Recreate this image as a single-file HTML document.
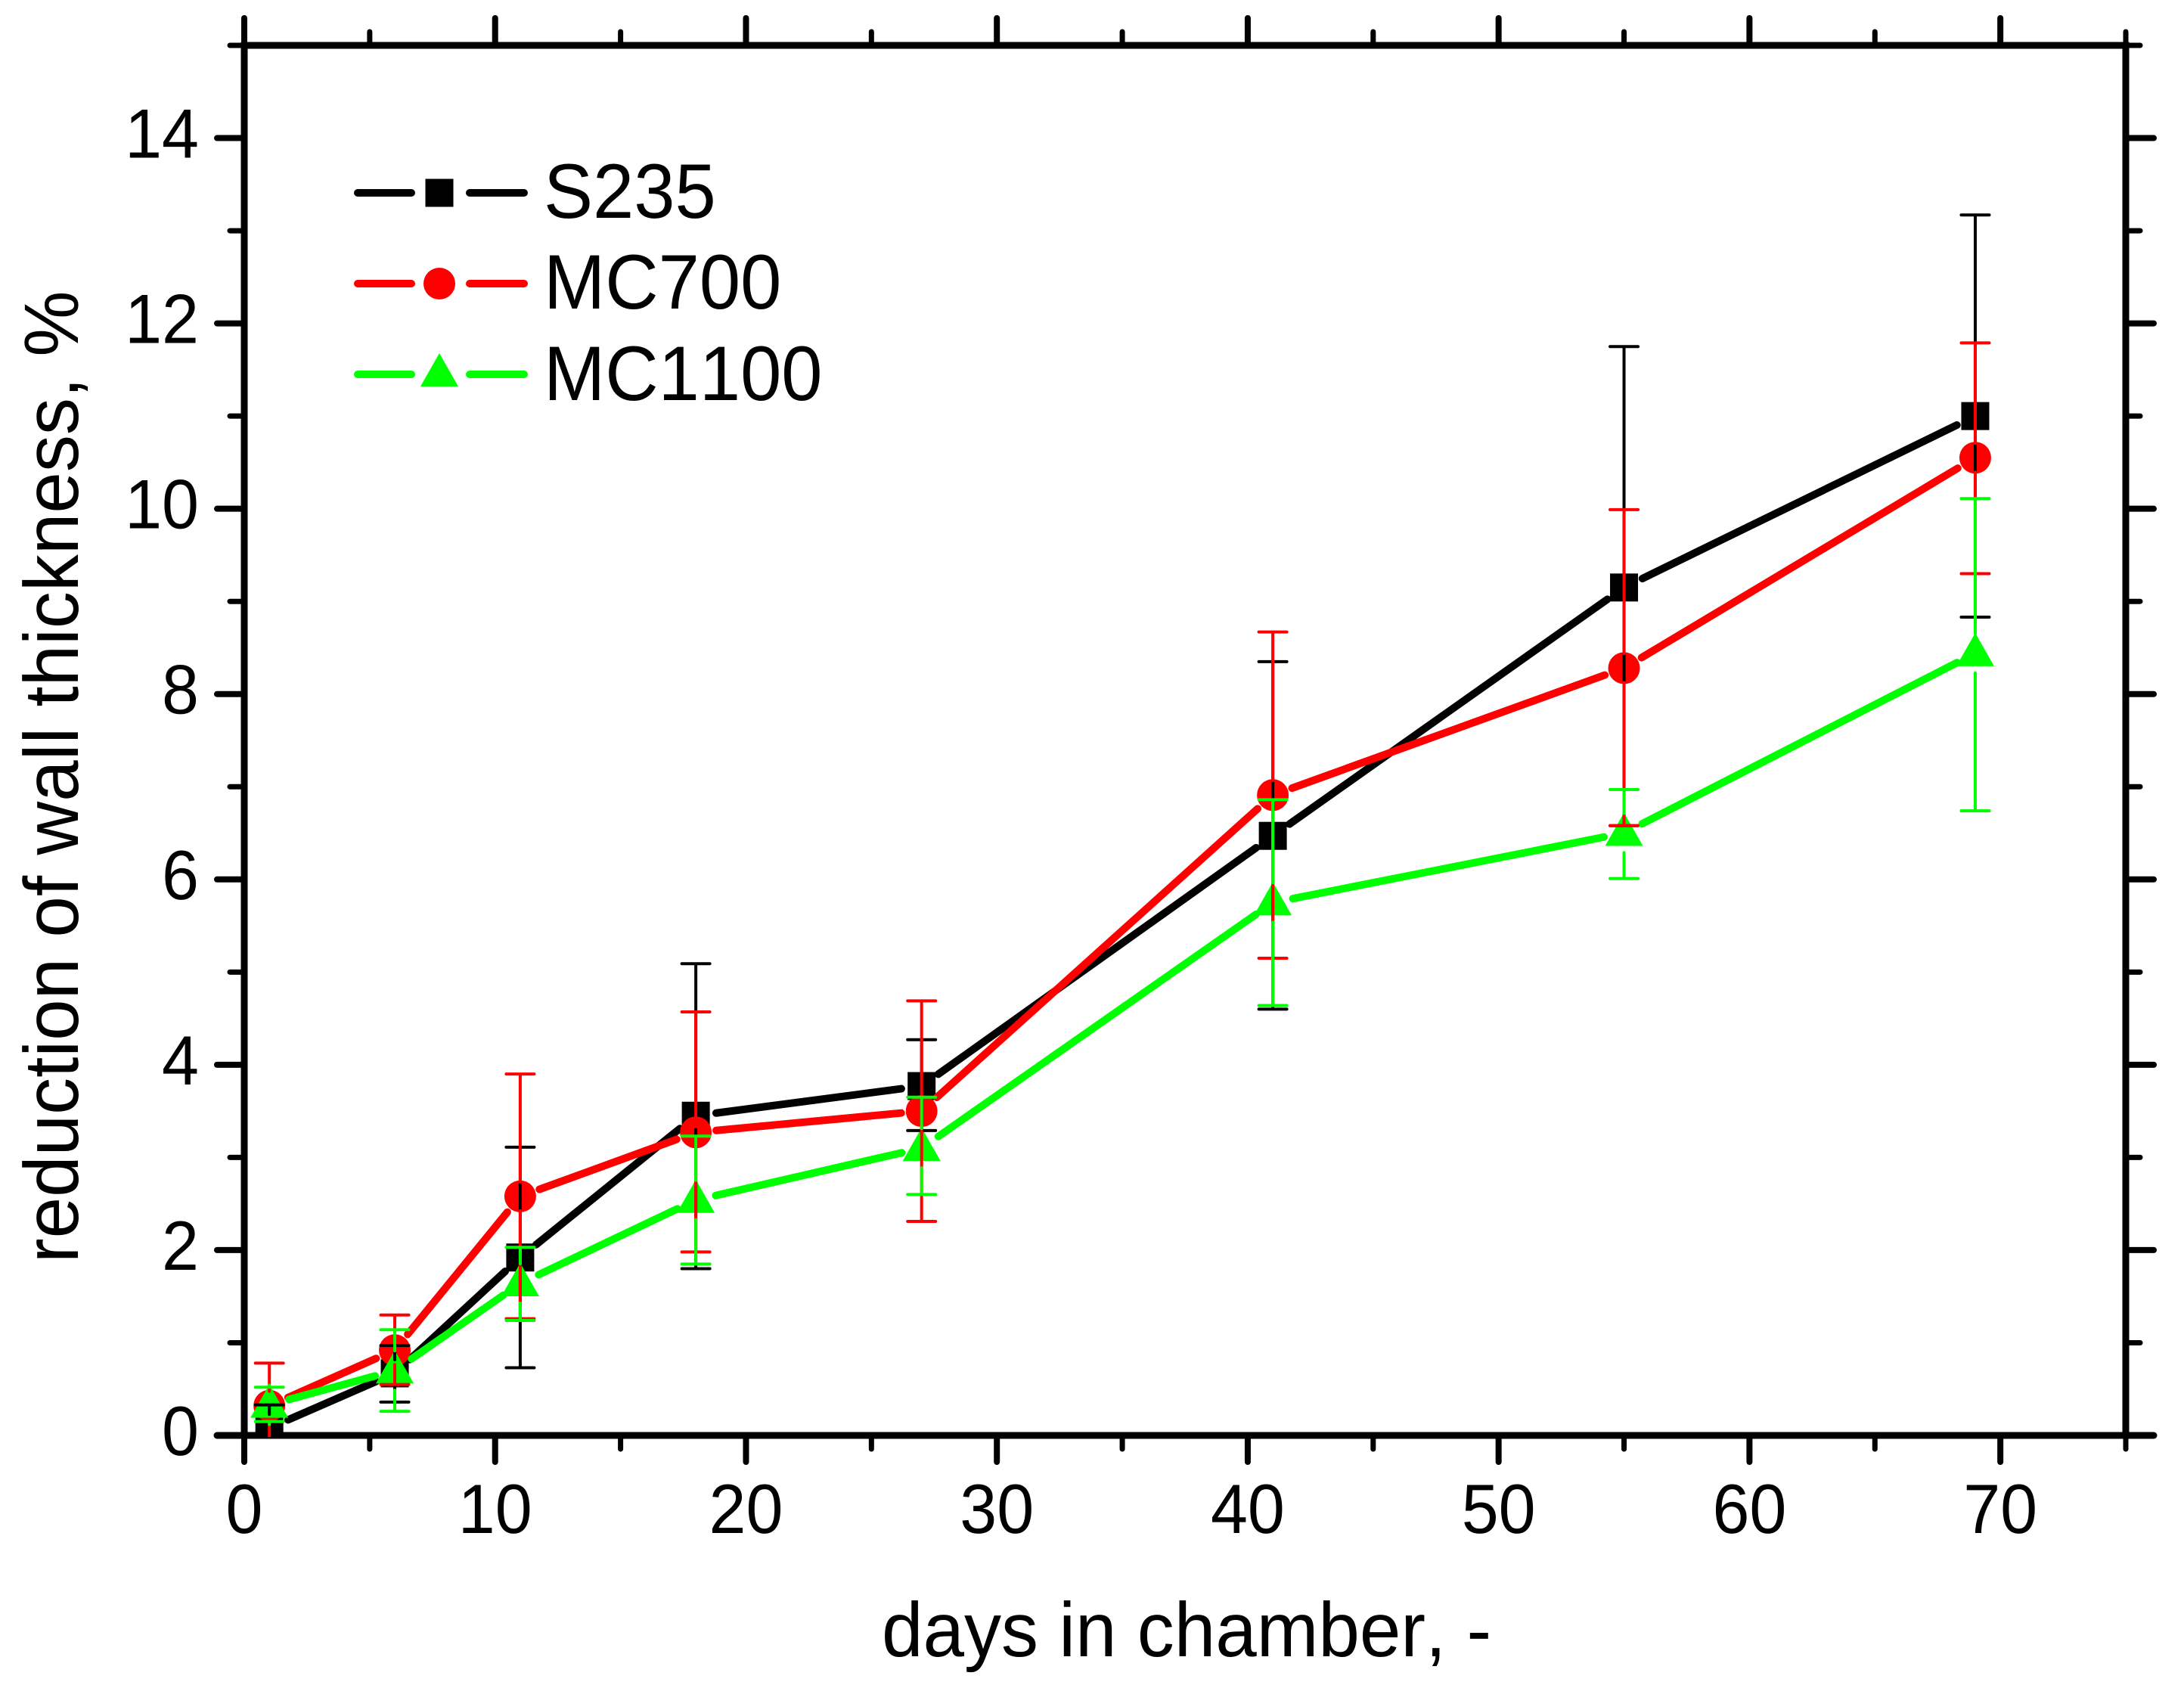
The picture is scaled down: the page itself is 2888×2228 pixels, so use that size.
<!DOCTYPE html>
<html lang="en">
<head>
<meta charset="utf-8">
<title>Reduction of wall thickness</title>
<style>
html,body{margin:0;padding:0;background:#fff}
svg{display:block}
text{font-family:"Liberation Sans",Arial,sans-serif;fill:#000;font-kerning:none;text-rendering:geometricPrecision}
</style>
</head>
<body>
<svg id="chart" xmlns="http://www.w3.org/2000/svg" width="2888" height="2228" viewBox="0 0 2888 2228">
<rect x="0" y="0" width="2888" height="2228" fill="#fff"/>
<defs><clipPath id="plot-clip"><rect x="323" y="60" width="2488" height="1840"/></clipPath></defs>
<g id="axes"></g>
<g id="plot" clip-path="url(#plot-clip)"></g>
<text transform="translate(1166,2190) scale(1,1.04)" font-size="98">days in chamber, -</text>
<text transform="translate(103,1670) rotate(-90) scale(1,1.04)" font-size="98">reduction of wall thickness, %</text>
<g id="legend">
<g>
<path d="M473 255H544M621 255H693" stroke="#000" stroke-width="10" stroke-linecap="round" fill="none"/>
<rect x="562.5" y="236.5" width="37" height="37" fill="#000"/>
<text transform="translate(719,288) scale(1,1.05)" font-size="97.5">S235</text>
</g>
<g>
<path d="M473 375H544M621 375H693" stroke="#f00" stroke-width="10" stroke-linecap="round" fill="none"/>
<circle cx="581" cy="375" r="21" fill="#f00"/>
<text transform="translate(719,408) scale(1,1.05)" font-size="97.5">MC700</text>
</g>
<g>
<path d="M473 495H544M621 495H693" stroke="#0f0" stroke-width="10" stroke-linecap="round" fill="none"/>
<path d="M581 467L606 511H556Z" fill="#0f0"/>
<text transform="translate(719,529) scale(1,1.05)" font-size="97.5">MC1100</text>
</g>
</g>
</svg>
<script>
const days = [1, 6, 11, 18, 27, 41, 55, 69];
const s235Values = [0.08, 0.67, 1.92, 3.45, 3.77, 6.47, 9.15, 11.0];
const s235Upper = [0.33, 0.97, 3.11, 5.09, 4.27, 8.35, 11.75, 13.17];
const s235Lower = [-0.17, 0.36, 0.73, 1.80, 3.29, 4.60, 6.58, 8.83];
const mc700Values = [0.32, 0.92, 2.58, 3.27, 3.50, 6.91, 8.28, 10.55];
const mc700Upper = [0.78, 1.30, 3.90, 4.57, 4.69, 8.67, 9.99, 11.79];
const mc700Lower = [-0.13, 0.55, 1.26, 1.98, 2.31, 5.15, 6.58, 9.30];
const mc1100Values = [0.33, 0.70, 1.64, 2.54, 3.10, 5.75, 6.50, 8.44];
const mc1100Upper = [0.52, 1.14, 2.03, 3.23, 3.65, 6.86, 6.97, 10.11];
const mc1100Lower = [0.15, 0.26, 1.24, 1.85, 2.60, 4.64, 6.01, 6.74];
const xMajorTicks = [0, 10, 20, 30, 40, 50, 60, 70];
const xMinorTicks = [5, 15, 25, 35, 45, 55, 65, 75];
const yMajorTicks = [0, 2, 4, 6, 8, 10, 12, 14];
const yMinorTicks = [1, 3, 5, 7, 9, 11, 13, 15];

const NS = 'http://www.w3.org/2000/svg';
const L = 323, R = 2811, T = 60, B = 1898;
const X_MAX = 75, Y_MAX = 15;
function xScale(v) { return L + (R - L) * v / X_MAX; }
function yScale(v) { return B - (B - T) * v / Y_MAX; }
function make(tag, parent) {
  const el = document.createElementNS(NS, tag);
  parent.appendChild(el);
  return el;
}
function stroke(el, color, width, cap) {
  el.setAttribute('stroke', color);
  el.setAttribute('stroke-width', width);
  el.setAttribute('stroke-linecap', cap);
  el.setAttribute('fill', 'none');
}
function seg(el, x1, y1, x2, y2) {
  el.setAttribute('x1', x1);
  el.setAttribute('y1', y1);
  el.setAttribute('x2', x2);
  el.setAttribute('y2', y2);
}

const axes = document.getElementById('axes');
const plot = document.getElementById('plot');

/* frame */
const frame = make('rect', axes);


frame.setAttribute('x', L);
frame.setAttribute('y', T);
frame.setAttribute('width', R - L);
frame.setAttribute('height', B - T);
stroke(frame, '#000', 9, 'butt');

/* x ticks, both sides */
xMajorTicks.forEach(function (v) {
  const bottom = make('line', axes);
  
  
  seg(bottom, xScale(v), B, xScale(v), B + 35);
  stroke(bottom, '#000', 8, 'round');
  const top = make('line', axes);
  
  
  seg(top, xScale(v), T, xScale(v), T - 36);
  stroke(top, '#000', 8, 'round');
  const label = make('text', axes);
  
  
  label.setAttribute('transform', 'translate(' + xScale(v) + ',2027) scale(1,1.05)');
  label.setAttribute('font-size', 88);
  label.setAttribute('text-anchor', 'middle');
  label.textContent = String(v);
});
xMinorTicks.forEach(function (v) {
  const bottom = make('line', axes);
  
  
  seg(bottom, xScale(v), B, xScale(v), B + 18);
  stroke(bottom, '#000', 7, 'round');
  const top = make('line', axes);
  
  
  seg(top, xScale(v), T, xScale(v), T - 18);
  stroke(top, '#000', 7, 'round');
});

/* y ticks, both sides */
yMajorTicks.forEach(function (v) {
  const left = make('line', axes);
  
  
  seg(left, L, yScale(v), L - 36, yScale(v));
  stroke(left, '#000', v === 0 ? 9 : 8, 'round');
  const right = make('line', axes);
  
  
  seg(right, R, yScale(v), R + 37, yScale(v));
  stroke(right, '#000', v === 0 ? 9 : 8, 'round');
  const label = make('text', axes);
  
  
  label.setAttribute('transform', 'translate(263,' + (yScale(v) + 26) + ') scale(1,1.05)');
  label.setAttribute('font-size', 88);
  label.setAttribute('text-anchor', 'end');
  label.textContent = String(v);
});
yMinorTicks.forEach(function (v) {
  const left = make('line', axes);
  
  
  seg(left, L, yScale(v), L - 19, yScale(v));
  stroke(left, '#000', 7, 'round');
  const right = make('line', axes);
  
  
  seg(right, R, yScale(v), R + 19, yScale(v));
  stroke(right, '#000', 7, 'round');
});

/* series */
const GAP = 27;
function drawSeries(name, color, values, drawMarker) {
  const g = make('g', plot);
  
  
  for (let i = 0; i < days.length - 1; i++) {
    const x1 = xScale(days[i]), y1 = yScale(values[i]);
    const x2 = xScale(days[i + 1]), y2 = yScale(values[i + 1]);
    const d = Math.hypot(x2 - x1, y2 - y1);
    const ux = (x2 - x1) / d, uy = (y2 - y1) / d;
    const line = make('line', g);
    
    
    seg(line, x1 + ux * GAP, y1 + uy * GAP, x2 - ux * GAP, y2 - uy * GAP);
    stroke(line, color, 10, 'round');
  }
  days.forEach(function (day, i) {
    drawMarker(g, xScale(day), yScale(values[i]), color);
  });
}
function squareMarker(g, cx, cy, color) {
  const m = make('rect', g);
  
  
  m.setAttribute('x', cx - 18.5);
  m.setAttribute('y', cy - 18.5);
  m.setAttribute('width', 37);
  m.setAttribute('height', 37);
  m.setAttribute('fill', color);
}
function circleMarker(g, cx, cy, color) {
  const m = make('circle', g);
  
  
  m.setAttribute('cx', cx);
  m.setAttribute('cy', cy);
  m.setAttribute('r', 21);
  m.setAttribute('fill', color);
}
function triangleMarker(g, cx, cy, color) {
  const m = make('path', g);
  
  
  m.setAttribute('d', 'M' + cx + ' ' + (cy - 27) + 'L' + (cx + 25) + ' ' + (cy + 17) + 'H' + (cx - 25) + 'Z');
  m.setAttribute('fill', color);
}
function drawErrors(name, color, values, upper, lower, gapUp, gapDown) {
  const g = make('g', plot);
  
  
  days.forEach(function (day, i) {
    const cx = xScale(day), cy = yScale(values[i]);
    const up = make('path', g);
    
    
    const yu = yScale(upper[i]);
    up.setAttribute('d', 'M' + cx + ' ' + (cy - gapUp) + 'V' + yu + 'M' + (cx - 18.5) + ' ' + yu + 'H' + (cx + 18.5));
    stroke(up, color, 4, 'round');
    const down = make('path', g);
    
    
    const yl = yScale(lower[i]);
    down.setAttribute('d', 'M' + cx + ' ' + (cy + gapDown) + 'V' + yl + 'M' + (cx - 18.5) + ' ' + yl + 'H' + (cx + 18.5));
    stroke(down, color, 4, 'round');
  });
}
drawSeries('s235', '#000', s235Values, squareMarker);
drawSeries('mc700', '#f00', mc700Values, circleMarker);
drawSeries('mc1100', '#0f0', mc1100Values, triangleMarker);
drawErrors('s235', '#000', s235Values, s235Upper, s235Lower, 18, 18);
drawErrors('mc700', '#f00', mc700Values, mc700Upper, mc700Lower, 19, 19);
drawErrors('mc1100', '#0f0', mc1100Values, mc1100Upper, mc1100Lower, 26, 26);
</script>
</body>
</html>
